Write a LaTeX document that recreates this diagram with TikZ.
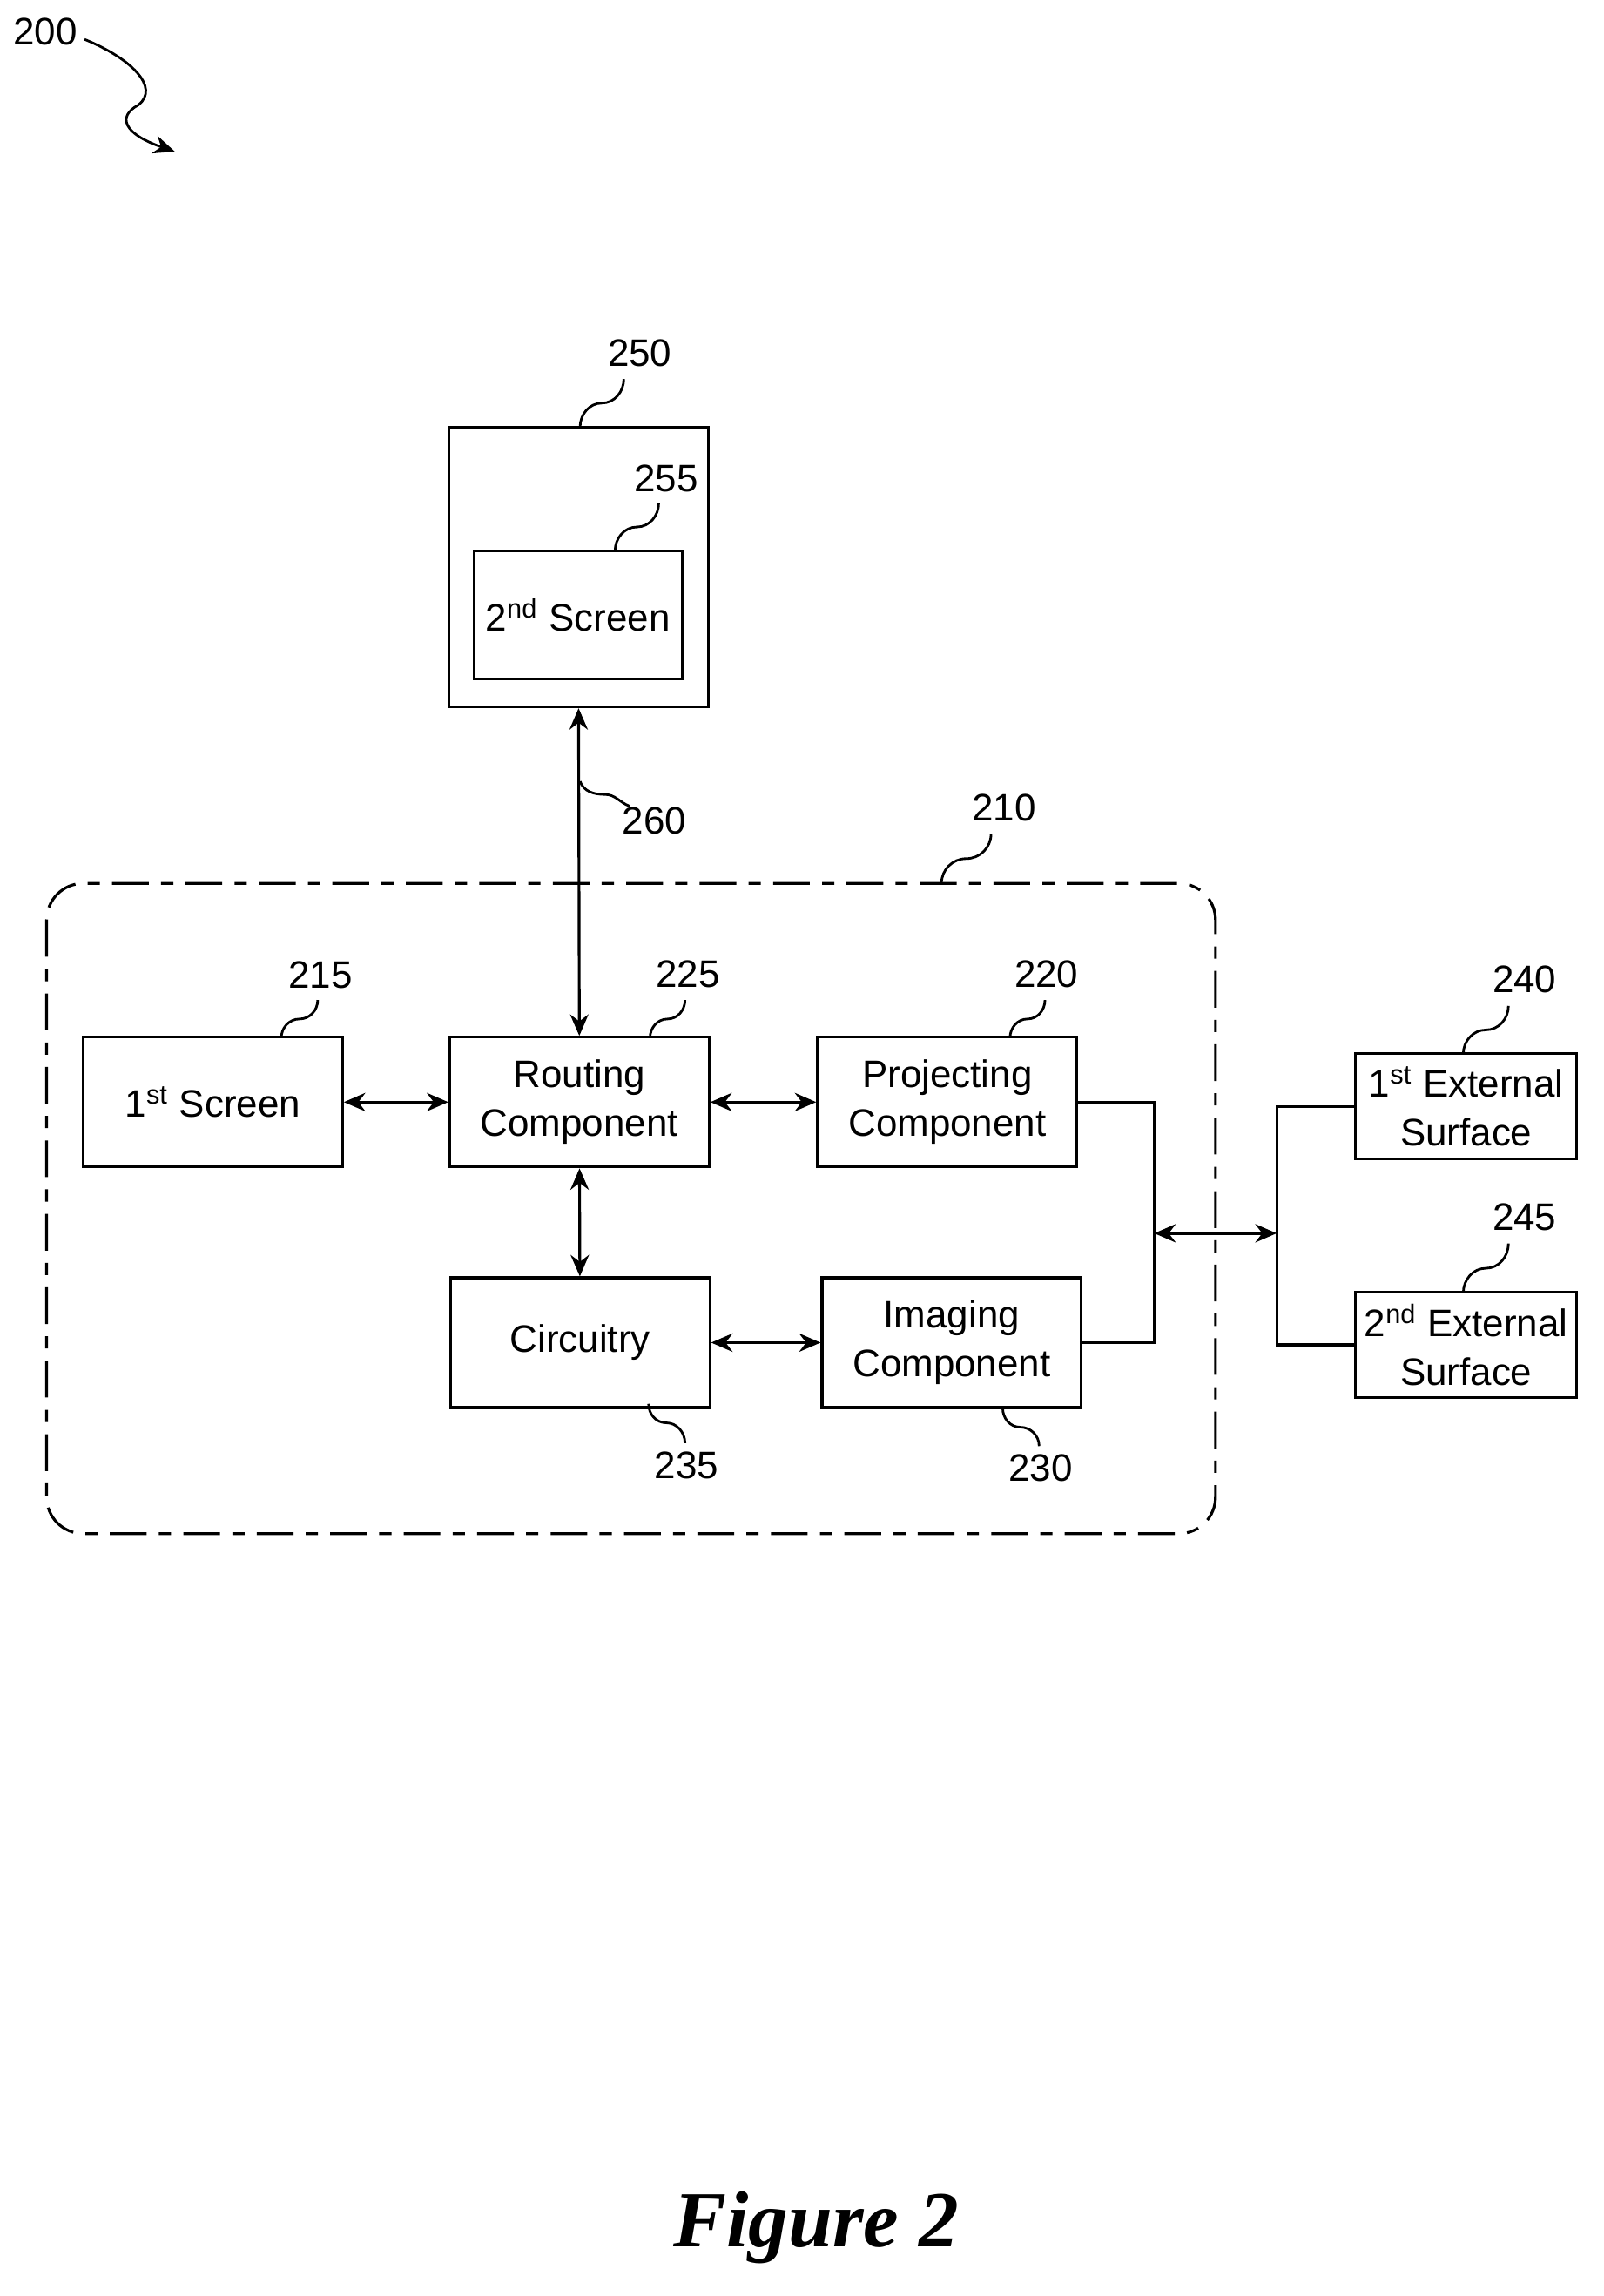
\documentclass[tikz,border=0pt]{standalone}
\usepackage{fontspec}
\setmainfont{Liberation Sans}
\newfontfamily\figfont{Liberation Serif}
\usetikzlibrary{arrows.meta,calc}

\tikzset{
  blk/.style={draw, line width=0.9pt, align=center, font=\fontsize{12.5}{16}\selectfont,
    minimum width=2.98cm, minimum height=1.49cm, inner sep=0pt},
  ext/.style={blk, minimum width=2.54cm, minimum height=1.21cm},
  num/.style={font=\fontsize{12.5}{15}\selectfont},
  lnk/.style={{Stealth[length=7pt,width=6pt]}-{Stealth[length=7pt,width=6pt]}, line width=0.9pt},
  wire/.style={line width=0.9pt},
}
\newcommand{\lead}[2]{\draw[line width=0.8pt] (#1) to[out=90,in=180] ($(#1)!0.5!(#2)$) to[out=0,in=-90] (#2);}

\begin{document}
\begin{tikzpicture}[x=0.01674cm, y=-0.01674cm]
    \useasboundingbox (0,0) rectangle (1100,1575);

    % Device with second screen
    \node[blk, minimum width=2.98cm, minimum height=3.21cm] (dev) at (397,389) {};
    \node[blk, minimum width=2.39cm, minimum height=1.47cm] (scr2) at (396.5,422) {2\textsuperscript{nd} Screen};

    % Projector housing
    \draw[line width=0.9pt, rounded corners=0.42cm, dash pattern=on 12pt off 4pt on 4pt off 4pt]
        (32,606) rectangle (834,1052);

    % Components
    \node[blk] (scr1) at (146,756) {1\textsuperscript{st} Screen};
    \node[blk] (rout) at (397.5,756) {Routing\\Component};
    \node[blk] (proj) at (650,756) {Projecting\\Component};
    \node[blk] (circ) at (398,921) {Circuitry};
    \node[blk] (img) at (653,921) {Imaging\\Component};

    % External surfaces
    \node[ext] (ext1) at (1006,759) {1\textsuperscript{st} External\\Surface};
    \node[ext] (ext2) at (1006,922.5) {2\textsuperscript{nd} External\\Surface};

    % Connections
    \draw[lnk] (dev.south) -- (rout.north);
    \draw[lnk] (scr1) -- (rout);
    \draw[lnk] (rout) -- (proj);
    \draw[lnk] (rout) -- (circ);
    \draw[lnk] (circ) -- (img);
    \coordinate (busL) at (792,846);
    \coordinate (busR) at (876,846);
    \draw[wire] (proj.east) -| (busL) |- (img.east);
    \draw[wire] (ext1.west) -| (busR) |- (ext2.west);
    \draw[lnk] (busL) -- (busR);

    % Reference numerals
    \node[num] (n200) at (31,22) {200};
    \node[num] (n250) at (439,242) {250};
    \node[num] (n255) at (457,328) {255};
    \node[num] (n260) at (449,563) {260};
    \node[num] (n210) at (689,554) {210};
    \node[num] (n215) at (220,669) {215};
    \node[num] (n225) at (472,668) {225};
    \node[num] (n220) at (718,668) {220};
    \node[num] (n240) at (1046,672) {240};
    \node[num] (n245) at (1046,835) {245};
    \node[num] (n235) at (471,1005) {235};
    \node[num] (n230) at (714,1007) {230};

    % Leaders
    \lead{398,293}{428,260}
    \lead{422,378}{452,345}
    \lead{646,606}{680,572}
    \lead{193,712}{218,686}
    \lead{446,712}{470,686}
    \lead{693,712}{717,686}
    \lead{1004,723}{1035,690}
    \lead{1004,887}{1035,853}
    \draw[line width=0.8pt] (445,963) to[out=-90,in=180] (457,976) to[out=0,in=90] (470,990);
    \draw[line width=0.8pt] (688,966) to[out=-90,in=180] (700,979) to[out=0,in=90] (713,992);
    \draw[line width=0.8pt] (398,536) to[out=-70,in=180] (415,545) to[out=0,in=160] (432,553);
    \draw[line width=0.8pt, -{Stealth[length=7pt,width=6pt]}] (58,27)
        .. controls (90,40) and (110,60) .. (95,72)
        .. controls (80,80) and (85,92) .. (120,104);

    % Caption
    \node[font=\figfont\bfseries\itshape\fontsize{26}{30}\selectfont] (cap) at (560,1528) {Figure 2};
\end{tikzpicture}
\end{document}
